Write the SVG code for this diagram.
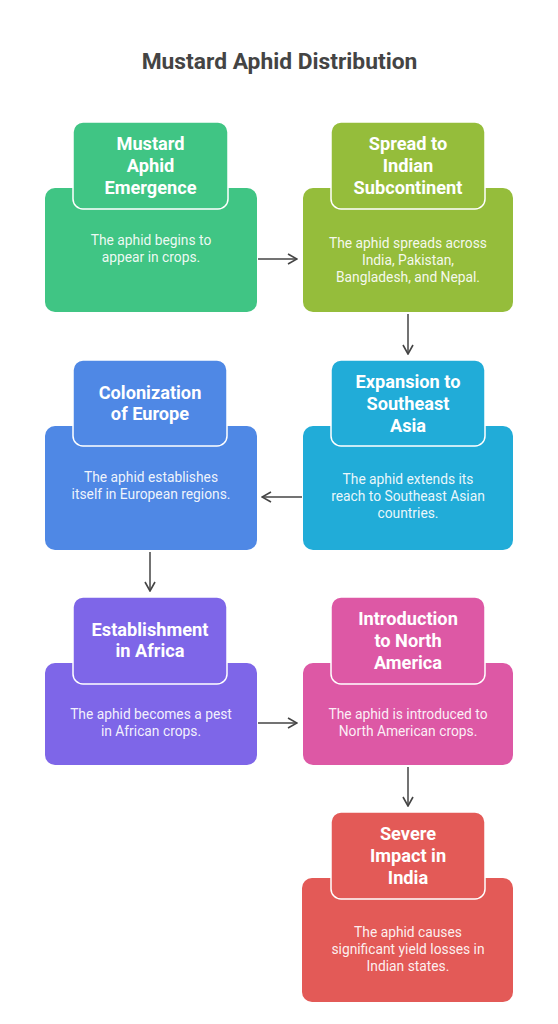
<svg xmlns="http://www.w3.org/2000/svg" width="558" height="1024" viewBox="0 0 558 1024">
<defs>
<marker id="arr" viewBox="0 0 12 12" refX="11" refY="6" markerWidth="12" markerHeight="12" markerUnits="userSpaceOnUse" orient="auto">
<path d="M2,1 L11,6 L2,11" fill="none" stroke="#444" stroke-width="1.6"/>
</marker>
<style>
.t{font-family:Roboto,"Liberation Sans",sans-serif;font-weight:bold;font-size:22.8px;fill:#444;text-anchor:middle}
.h{font-family:Roboto,"Liberation Sans",sans-serif;font-weight:bold;font-size:18.2px;fill:#fff;text-anchor:middle}
.b{font-family:Roboto,"Liberation Sans",sans-serif;font-size:13.8px;fill:#fff;fill-opacity:0.92;text-anchor:middle}
.top{stroke:#fff;stroke-width:1.5}
.c{fill:none;stroke:#444;stroke-width:1.5;marker-end:url(#arr)}
</style>
</defs>
<rect width="558" height="1024" fill="#fff"/>
<text class="t" x="279.5" y="69">Mustard Aphid Distribution</text>
<g id="connectors">
<line class="c" x1="258" y1="259" x2="297" y2="259"/>
<line class="c" x1="408" y1="314" x2="408" y2="354"/>
<line class="c" x1="302" y1="497" x2="262" y2="497"/>
<line class="c" x1="150" y1="552" x2="150" y2="591"/>
<line class="c" x1="258" y1="723" x2="297" y2="723"/>
<line class="c" x1="408" y1="767" x2="408" y2="806"/>
</g>
<g id="n1">
<rect x="45" y="188" width="212" height="124" rx="10" fill="#40C584"/>
<rect class="top" x="73" y="122" width="155" height="87" rx="10" fill="#40C584"/>
<text class="h" x="150.5" y="149.5">Mustard</text>
<text class="h" x="150.5" y="171.5">Aphid</text>
<text class="h" x="150.5" y="193.5">Emergence</text>
<text class="b" x="151" y="245">The aphid begins to</text>
<text class="b" x="151" y="262">appear in crops.</text>
</g>
<g id="n2">
<rect x="303" y="188" width="210" height="124" rx="10" fill="#95BD3B"/>
<rect class="top" x="331" y="122" width="154" height="87" rx="10" fill="#95BD3B"/>
<text class="h" x="408" y="149.5">Spread to</text>
<text class="h" x="408" y="171.5">Indian</text>
<text class="h" x="408" y="193.5">Subcontinent</text>
<text class="b" x="408" y="248">The aphid spreads across</text>
<text class="b" x="408" y="265">India, Pakistan,</text>
<text class="b" x="408" y="282">Bangladesh, and Nepal.</text>
</g>
<g id="n3">
<rect x="303" y="426" width="210" height="124" rx="10" fill="#21ACD8"/>
<rect class="top" x="331" y="360" width="154" height="86" rx="10" fill="#21ACD8"/>
<text class="h" x="408" y="387.5">Expansion to</text>
<text class="h" x="408" y="409.5">Southeast</text>
<text class="h" x="408" y="431.5">Asia</text>
<text class="b" x="408" y="484">The aphid extends its</text>
<text class="b" x="408" y="501">reach to Southeast Asian</text>
<text class="b" x="408" y="518">countries.</text>
</g>
<g id="n4">
<rect x="45" y="426" width="212" height="124" rx="10" fill="#4F88E5"/>
<rect class="top" x="73" y="360" width="154" height="86" rx="10" fill="#4F88E5"/>
<text class="h" x="150" y="398.5">Colonization</text>
<text class="h" x="150" y="419.5">of Europe</text>
<text class="b" x="151" y="482">The aphid establishes</text>
<text class="b" x="151" y="499">itself in European regions.</text>
</g>
<g id="n5">
<rect x="45" y="663" width="212" height="102" rx="10" fill="#7E66E8"/>
<rect class="top" x="73" y="597" width="154" height="87" rx="10" fill="#7E66E8"/>
<text class="h" x="150" y="635.5">Establishment</text>
<text class="h" x="150" y="656.5">in Africa</text>
<text class="b" x="151" y="719">The aphid becomes a pest</text>
<text class="b" x="151" y="736">in African crops.</text>
</g>
<g id="n6">
<rect x="303" y="663" width="210" height="102" rx="10" fill="#DD58A5"/>
<rect class="top" x="331" y="597" width="154" height="87" rx="10" fill="#DD58A5"/>
<text class="h" x="408" y="624.5">Introduction</text>
<text class="h" x="408" y="646.5">to North</text>
<text class="h" x="408" y="668.5">America</text>
<text class="b" x="408" y="719">The aphid is introduced to</text>
<text class="b" x="408" y="736">North American crops.</text>
</g>
<g id="n7">
<rect x="302" y="878" width="211" height="124" rx="10" fill="#E35A57"/>
<rect class="top" x="331" y="812" width="154" height="87" rx="10" fill="#E35A57"/>
<text class="h" x="408" y="839.5">Severe</text>
<text class="h" x="408" y="861.5">Impact in</text>
<text class="h" x="408" y="883.5">India</text>
<text class="b" x="408" y="937">The aphid causes</text>
<text class="b" x="408" y="954">significant yield losses in</text>
<text class="b" x="408" y="971">Indian states.</text>
</g>
</svg>
